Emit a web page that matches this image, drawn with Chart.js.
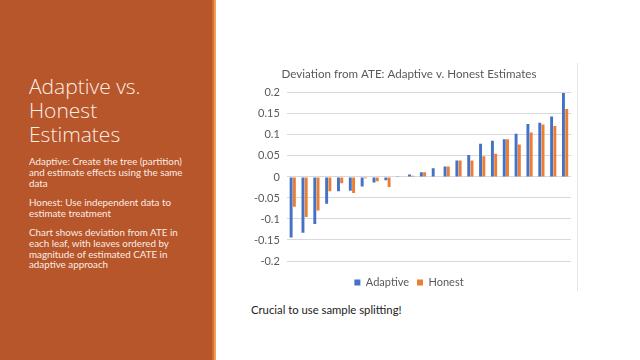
<!DOCTYPE html>
<html>
<head>
<meta charset="utf-8">
<script src="https://cdn.jsdelivr.net/npm/chart.js@4.4.1/dist/chart.umd.min.js"></script>
<style>
  html, body { margin: 0; padding: 0; }
  body { width: 640px; height: 360px; position: relative; background: #fff; overflow: hidden; font-family: Lato, "Open Sans", sans-serif; }
  #side { position: absolute; left: 0; top: 0; width: 212px; height: 360px; background: #B7552B; }
  #stripe1 { position: absolute; left: 212px; top: 0; width: 2px; height: 360px; background: #D0702F; }
  #stripe2 { position: absolute; left: 214px; top: 0; width: 2px; height: 360px; background: #F0A050; }
  #heading { position: absolute; left: 29px; top: 74px; color: #FCEFE6; font-family: "Open Sans", sans-serif; font-weight: 300; font-size: 21px; line-height: 24px; }
  .note { position: absolute; left: 29px; width: 185px; color: #FBEDE4; font-size: 9.8px; line-height: 10.8px; white-space: nowrap; }
  #wrap { position: absolute; left: 247px; top: 62px; width: 327px; height: 236px; }
  #vline { position: absolute; left: 577px; top: 63px; width: 1px; height: 228px; background: #E4E4E4; }
  #foot { position: absolute; left: 251px; top: 303px; font-size: 11.3px; color: #222; }
</style>
</head>
<body>
<div id="side"></div>
<div id="stripe1"></div>
<div id="stripe2"></div>
<div id="heading">Adaptive vs.<br>Honest<br>Estimates</div>
<div class="note" style="top:156px">Adaptive: Create the tree (partition)<br>and estimate effects using the same<br>data</div>
<div class="note" style="top:197px">Honest: Use independent data to<br>estimate treatment</div>
<div class="note" style="top:227px">Chart shows deviation from ATE in<br>each leaf, with leaves ordered by<br>magnitude of estimated CATE in<br>adaptive approach</div>
<div id="wrap"><canvas id="chart"></canvas></div>
<div id="vline"></div>
<div id="foot">Crucial to use sample splitting!</div>
<script>
// leaves, ordered by adaptive CATE
const leaves = ['1','2','3','4','5','6','7','8','9','10','11','12','13','14','15','16','17','18','19','20','21','22','23','24'];
const adaptive = [-0.144, -0.133, -0.112, -0.064, -0.034, -0.033, -0.023, -0.013, -0.008, 0.0005, 0.006, 0.011, 0.021, 0.025, 0.039, 0.052, 0.079, 0.086, 0.090, 0.103, 0.126, 0.129, 0.144, 0.200];
const honest = [-0.071, -0.095, -0.080, -0.034, -0.015, -0.038, -0.003, -0.010, -0.024, 0.001, 0.003, 0.011, 0, 0.025, 0.039, 0.039, 0.049, 0.055, 0.090, 0.077, 0.106, 0.125, 0.121, 0.162];
const yTicks = [-0.2, -0.15, -0.1, -0.05, 0, 0.05, 0.1, 0.15, 0.2];

const ctx = document.getElementById('chart').getContext('2d');
new Chart(ctx, {
  type: 'bar',
  data: {
    labels: leaves,
    datasets: [
      { label: 'Adaptive', data: adaptive, backgroundColor: '#4472C4', categoryPercentage: 0.55, barPercentage: 0.9 },
      { label: 'Honest', data: honest, backgroundColor: '#ED7D31', categoryPercentage: 0.55, barPercentage: 0.9 }
    ]
  },
  options: {
    responsive: true,
    maintainAspectRatio: false,
    animation: false,
    layout: { padding: { left: 0, right: 3, top: 0, bottom: 0 } },
    scales: {
      x: {
        grid: { display: false },
        border: { display: false },
        ticks: { display: false }
      },
      y: {
        min: -0.2,
        max: 0.2,
        afterBuildTicks: function (axis) {
          axis.ticks = yTicks.map(v => ({ value: v }));
        },
        grid: { color: '#D9D9D9', drawTicks: false },
        border: { display: false },
        ticks: {
          color: '#595959',
          font: { family: 'Lato', size: 11 },
          padding: 7,
          callback: v => String(Math.round(v * 100) / 100)
        }
      }
    },
    plugins: {
      title: {
        display: true,
        text: 'Deviation from ATE: Adaptive v. Honest Estimates',
        color: '#595959',
        font: { family: 'Lato', size: 11.6, weight: 'normal' },
        padding: { top: 5, bottom: 12 }
      },
      legend: {
        position: 'bottom',
        labels: { boxWidth: 6, boxHeight: 6, color: '#595959', font: { family: 'Lato', size: 11 }, padding: 8 }
      },
      tooltip: { enabled: false }
    }
  }
});
</script>
</body>
</html>
